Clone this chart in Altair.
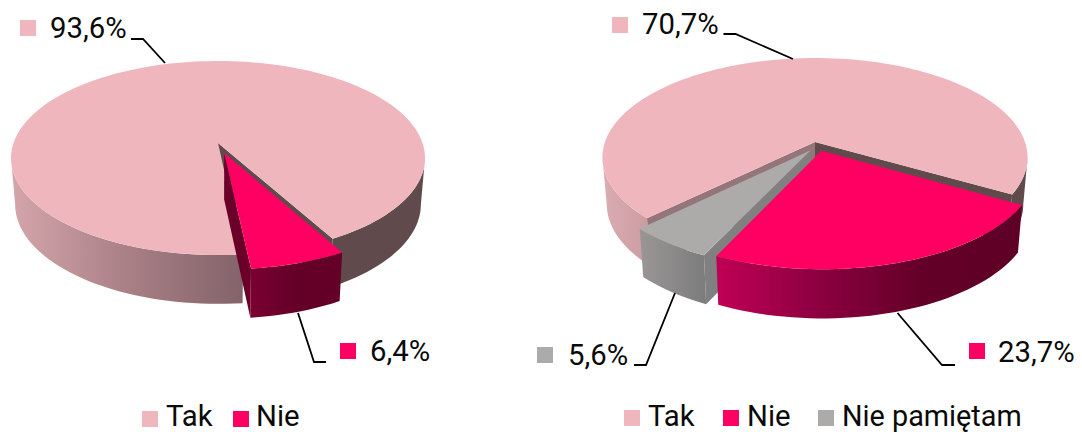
import math
import altair as alt
import pandas as pd

# ---- values ----
categories_left = ["Nie", "Tak"]
shares_left = [6.4, 93.6]
categories_right = ["Nie", "Nie pamiętam", "Tak"]
shares_right = [23.7, 5.6, 70.7]
legend_left = ["Tak", "Nie"]
legend_right = ["Tak", "Nie", "Nie pamiętam"]

PINK, RED, GREY = "#f0b6be", "#ff0062", "#adaaaa"
FONT = "Roboto"
K = 0.155          # perspective of the pie's top face
DEPTH, SHRINK, SHRINK_Y = 46, 0.98, 1.025
WIDE = math.degrees(math.acos(-K))  # clockwise-from-top angle of the silhouette

X_SCALE = alt.Scale(domain=[8, 1074], nice=False, zero=False)
Y_SCALE = alt.Scale(domain=[8, 432], reverse=True, nice=False, zero=False)


class Pie:
    def __init__(self, cx, cy, S, a):
        self.cx, self.cy, self.S, self.a = cx, cy, S, a

    def top(self, ang, r=1.0, du=0.0, dv=0.0):
        t = math.radians(ang)
        u, v = r * math.sin(t) + du, -r * math.cos(t) + dv
        w = 1 - K * v
        return self.cx + self.S * u / w, self.cy + self.a * v / w

    def bot(self, ang, r=1.0, du=0.0, dv=0.0):
        x, y = self.top(ang, r, du, dv)
        return self.cx + (x - self.cx) * SHRINK, self.cy + (y - self.cy) * SHRINK_Y + DEPTH

    def arc(self, a0, a1, fn, du=0.0, dv=0.0):
        n = max(2, int(abs(a1 - a0) / 2) + 1)
        return [fn(a0 + (a1 - a0) * i / (n - 1), 1.0, du, dv) for i in range(n)]

    def sector(self, a0, a1, du=0.0, dv=0.0):
        return [self.top(0, 0, du, dv)] + self.arc(a0, a1, self.top, du, dv)

    def wall(self, a0, a1, du=0.0, dv=0.0):
        return self.arc(a0, a1, self.top, du, dv) + self.arc(a1, a0, self.bot, du, dv)

    def radial(self, ang, du=0.0, dv=0.0):
        return [self.top(0, 0, du, dv), self.top(ang, 1, du, dv),
                self.bot(ang, 1, du, dv), self.bot(0, 0, du, dv)]


def grad(*stops):
    n = len(stops) - 1
    return alt.Gradient(gradient="linear", x1=0, x2=1, y1=0, y2=0,
                        stops=[alt.GradientStop(offset=i / n, color=c) for i, c in enumerate(stops)])


def poly(pts, fill):
    df = pd.DataFrame({"x": [p[0] for p in pts], "y": [p[1] for p in pts], "o": range(len(pts))})
    return alt.Chart(df).mark_line(fill=fill, strokeWidth=0, interpolate="linear").encode(
        x=alt.X("x:Q", scale=X_SCALE, axis=None),
        y=alt.Y("y:Q", scale=Y_SCALE, axis=None),
        order=alt.Order("o:Q"),
    )


def leader(pts):
    df = pd.DataFrame({"x": [p[0] for p in pts], "y": [p[1] for p in pts], "o": range(len(pts))})
    return alt.Chart(df).mark_line(color="#000000", strokeWidth=1.8).encode(
        x=alt.X("x:Q", scale=X_SCALE, axis=None),
        y=alt.Y("y:Q", scale=Y_SCALE, axis=None),
        order=alt.Order("o:Q"),
    )


def texts(rows, size=29.3):
    df = pd.DataFrame(rows, columns=["x", "y", "t"])
    return alt.Chart(df).mark_text(align="left", baseline="alphabetic", font=FONT, fontSize=size,
                                   color="#0a0a0a").encode(
        x=alt.X("x:Q", scale=X_SCALE, axis=None),
        y=alt.Y("y:Q", scale=Y_SCALE, axis=None),
        text="t:N",
    )


def squares(rows):
    df = pd.DataFrame(rows, columns=["x", "y", "c"])
    return alt.Chart(df).mark_square(size=256, opacity=1, filled=True).encode(
        x=alt.X("x:Q", scale=X_SCALE, axis=None),
        y=alt.Y("y:Q", scale=Y_SCALE, axis=None),
        color=alt.Color("c:N", scale=None, legend=None),
    )


def pct(v):
    return f"{v:.1f}%".replace(".", ",")


layers = []

# ---- left pie ----
L = Pie(218, 143, 204.5, 94.7)
a0 = 151.0
a1 = a0 + shares_left[0] * 3.6
DL = (0.03, 0.105)
layers += [
    poly(L.wall(WIDE, a0), "#604a4b"),
    poly(L.wall(a1, 360 - WIDE + 0), grad("#d4a6ab", "#a98086", "#83636a")),
    poly(L.radial(a0), "#604a4b"),
    poly(L.sector(a1, a0 + 360), PINK),
    poly(L.radial(a1, *DL), "#6a0029"),
    poly(L.wall(a0, a1, *DL), grad("#7a0031", "#640028", "#640028")),
    poly(L.sector(a0, a1, *DL), RED),
]

# ---- right pie ----
R = Pie(815, 142, 210, 97)
b0 = 120.0
b1 = b0 + shares_right[0] * 3.6
b2 = b1 + shares_right[1] * 3.6
DN = (0.03, 0.09)
DG = (-0.02, 0.085)
layers += [
    poly(R.wall(WIDE, b0), "#604a4b"),
    poly(R.wall(b2, 360 - WIDE), grad("#dbadb3", "#c99ca2")),
    poly(R.radial(b0), "#604a4b"),
    poly(R.radial(b2), "#93757a"),
    poly(R.sector(b2, b0 + 360), PINK),
    poly(R.radial(b1, *DG), "#808080"),
    poly(R.wall(b1, b2, *DG), grad("#9a9696", "#7c7c7c")),
    poly(R.sector(b1, b2, *DG), GREY),
    poly(R.wall(b0, b1, *DN), grad("#c00055", "#8c0040", "#640028", "#5e0026")),
    poly(R.sector(b0, b1, *DN), RED),
]

# ---- leaders ----
layers += [
    leader([(131, 39), (143, 39), (165, 63)]),
    leader([(298, 313), (314, 362), (326, 362)]),
    leader([(723.5, 34), (735.5, 34), (793, 59)]),
    leader([(634, 365), (646, 365), (675, 293)]),
    leader([(897.5, 313), (942, 365), (955, 365)]),
]

# ---- squares and texts ----
layers.append(squares([
    (28, 28, PINK), (348, 351, RED), (150, 419, PINK), (241, 419, RED),
    (620, 25, PINK), (545, 355, GREY), (977, 351, RED),
    (632, 418, PINK), (731, 418, RED), (826, 418, GREY),
]))
layers.append(texts([
    (50, 38, pct(shares_left[1])), (370, 361, pct(shares_left[0])),
    (166, 425.5, legend_left[0]), (256, 425.5, legend_left[1]),
    (642, 34, pct(shares_right[2])), (568, 365, pct(shares_right[1])), (998, 362, pct(shares_right[0])),
    (648, 425.5, legend_right[0]), (747, 425.5, legend_right[1]),
]))
layers.append(texts([(842, 425.5, legend_right[2])], size=28.8))

chart = alt.layer(*layers).properties(
    width=1066, height=424, padding=0,
    autosize=alt.AutoSizeParams(type="none"),
    background="#ffffff",
).configure_view(stroke=None)

chart.save("out.html", embed_options={"renderer": "svg", "actions": False})
